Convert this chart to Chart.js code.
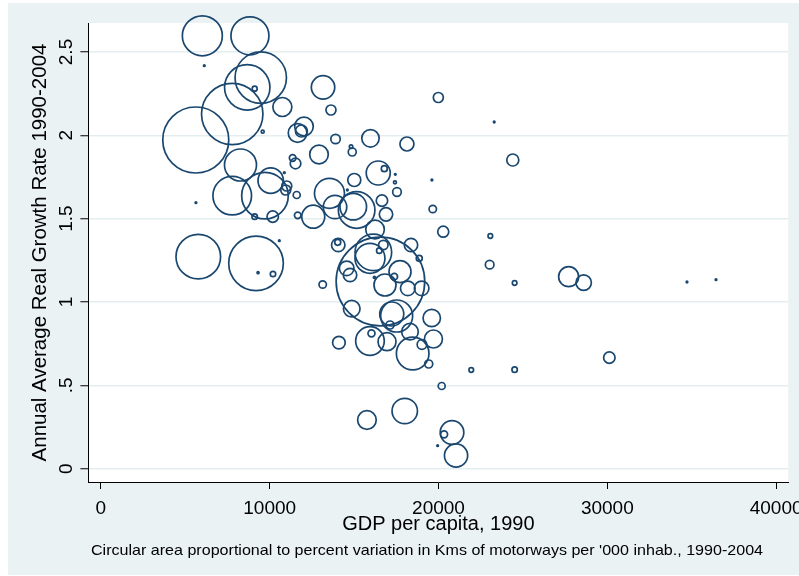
<!DOCTYPE html>
<html>
<head>
<meta charset="utf-8">
<script src="https://cdn.jsdelivr.net/npm/chart.js@4"></script>
<style>
  html, body { margin: 0; padding: 0; background: #fff; }
  #wrap { width: 799px; height: 576px; }
</style>
</head>
<body>
<div id="wrap"><canvas id="bubbleChart" width="799" height="576"></canvas></div>
<script>
// GDP per capita 1990 (x), growth rate 1990-2004 (y), circle radius (motorway variation)
const gdp = [
    6010, 8830, 6125, 9470, 8670, 9110, 13160, 7780, 10750, 13630,
    5620, 9585, 11650, 12030, 11880, 13900, 12920, 11360, 11530, 8270,
    10865, 7780, 9720, 10060, 11010, 10950, 11600, 5630, 9110, 10180,
    11660, 12580, 13540, 5770, 9190, 10570, 9310, 10195, 13140, 15970,
    18130, 14820, 14890, 16430, 16790, 17440, 17420, 19610, 15010, 17540,
    14600, 13870, 14950, 15150, 16650, 16890, 19660, 16240, 20280, 14060,
    14030, 16140, 15940, 16730, 16490, 18370, 18860, 16560, 14560, 14760,
    16200, 16830, 17380, 17720, 18180, 19000, 14860, 17520, 17230, 17130,
    19600, 15940, 16030, 16950, 18310, 19700, 19020, 14100, 18470, 19420,
    18000, 15760, 20800, 20330, 19950, 21040, 20190, 19990, 23300, 24400,
    23070, 23030, 24510, 27710, 28600, 34720, 36440, 30120, 21940, 24510
];
const growth = [
    2.597, 2.597, 2.418, 2.346, 2.288, 2.280, 2.288, 2.128, 2.170, 2.152,
    1.972, 2.022, 2.014, 2.053, 2.026, 1.978, 1.885, 1.864, 1.831, 1.822,
    1.776, 1.638, 1.638, 1.728, 1.696, 1.672, 1.642, 1.596, 1.512, 1.512,
    1.520, 1.512, 1.652, 1.272, 1.232, 1.368, 1.176, 1.168, 1.105, 1.982,
    1.948, 1.932, 1.900, 1.774, 1.800, 1.766, 1.718, 1.732, 1.732, 1.660,
    1.672, 1.570, 1.572, 1.552, 1.608, 1.526, 1.558, 1.435, 1.422, 1.342,
    1.358, 1.298, 1.262, 1.342, 1.308, 1.342, 1.262, 1.123, 1.202, 1.162,
    1.148, 1.102, 1.152, 1.182, 1.082, 1.082, 0.960, 0.916, 0.928, 0.862,
    0.904, 0.766, 0.812, 0.762, 0.822, 0.778, 0.745, 0.756, 0.691, 0.628,
    0.346, 0.292, 0.217, 0.206, 0.138, 0.079, 0.496, 2.227, 2.080, 1.852,
    1.396, 1.224, 1.114, 1.152, 1.116, 1.120, 1.134, 0.666, 0.592, 0.594
];
const size = [
    20, 19, 0.8, 25.7, 22.7, 2.5, 11.7, 30.7, 9.5, 5,
    33, 1.5, 9.3, 9.3, 6, 4.7, 9.3, 3.3, 5.3, 16,
    0.8, 19.3, 23.3, 12.7, 5, 5, 3.5, 0.8, 2.7, 5.7,
    3.3, 11.5, 15, 22.3, 27.3, 0.8, 1, 2.7, 3.7, 8.7,
    7, 1.7, 4, 12, 3, 0.8, 1.5, 0.8, 6.5, 4.3,
    0.8, 11.7, 13.3, 18.3, 5.7, 6.7, 3.7, 9.3, 5.5, 6.7,
    3, 18.3, 15, 4.7, 2.7, 6.7, 3, 44.3, 7.3, 6.7,
    1, 11, 3.3, 11, 7.3, 7.3, 8.3, 16, 12, 4,
    8.7, 14.3, 3.5, 9, 8.3, 9, 4.8, 6.3, 16.3, 4,
    12.7, 9.3, 11.8, 3.5, 0.8, 11.6, 3.5, 5, 0.8, 6,
    2.3, 4.3, 2.3, 10, 7.7, 0.8, 0.8, 5.7, 2.3, 2.7
];

const xTicks = [0, 10000, 20000, 30000, 40000];
const yTicks = [0, 0.5, 1, 1.5, 2, 2.5];
const yTickLabels = ['0', '.5', '1', '1.5', '2', '2.5'];
const note = "Circular area proportional to percent variation in Kms of motorways per '000 inhab., 1990-2004";

const FONT = '"Liberation Sans", Arial, sans-serif';
const NAVY = '#1a476f';
const PANEL = '#eaf2f3';

// Stata-like backdrop, rotated y labels and the note underneath
const stataLook = {
    id: 'stataLook',
    beforeDraw(chart) {
        const { ctx, chartArea: a } = chart;
        ctx.save();
        ctx.fillStyle = '#ffffff';
        ctx.fillRect(0, 0, chart.width, chart.height);
        ctx.fillStyle = PANEL;
        ctx.fillRect(8, 3, chart.width - 8, chart.height - 4);
        ctx.fillStyle = '#ffffff';
        ctx.fillRect(a.left, a.top, a.right - a.left, a.bottom - a.top);
        ctx.restore();
    },
    afterDraw(chart) {
        const { ctx } = chart;
        const yScale = chart.scales.y;
        ctx.save();
        ctx.fillStyle = '#000';
        ctx.font = '19px ' + FONT;
        ctx.textAlign = 'center';
        ctx.textBaseline = 'alphabetic';
        yTicks.forEach((v, i) => {
            const py = yScale.getPixelForValue(v);
            ctx.save();
            ctx.translate(72, py);
            ctx.rotate(-Math.PI / 2);
            ctx.fillText(yTickLabels[i], 0, 0);
            ctx.restore();
        });
        // Stata stretches the note a bit wider than the plain font
        ctx.font = '14.5px ' + FONT;
        ctx.textBaseline = 'middle';
        const w = ctx.measureText(note).width;
        ctx.translate(427, 551);
        ctx.scale(672 / w, 1);
        ctx.fillText(note, 0, 0);
        ctx.restore();
    }
};

// keep the plot box where Stata put it: no extra label overhang padding
function pinPadding(scale) {
    scale.paddingLeft = 0;
    scale.paddingRight = 0;
    scale.paddingTop = 0;
    scale.paddingBottom = 0;
}

const points = gdp.map((x, i) => ({ x: x, y: growth[i], r: size[i] }));

new Chart(document.getElementById('bubbleChart'), {
    type: 'bubble',
    data: {
        datasets: [{
            data: points,
            backgroundColor: 'rgba(0,0,0,0)',
            borderColor: NAVY,
            borderWidth: 1.7,
            clip: false
        }]
    },
    options: {
        responsive: false,
        animation: false,
        events: [],
        layout: {
            autoPadding: false,
            padding: { top: 23, left: 0, right: 10.7, bottom: 0 }
        },
        plugins: {
            legend: { display: false },
            tooltip: { enabled: false }
        },
        scales: {
            x: {
                type: 'linear',
                min: -740,
                max: 40722,
                afterBuildTicks: (scale) => { scale.ticks = xTicks.map(v => ({ value: v })); },
                afterFit: (scale) => { scale.height = 94; pinPadding(scale); },
                grid: {
                    drawOnChartArea: false,
                    drawTicks: true,
                    tickLength: 7,
                    tickColor: '#000',
                    tickWidth: 1
                },
                border: { display: true, color: '#000', width: 1 },
                ticks: {
                    color: '#000',
                    padding: 8,
                    maxRotation: 0,
                    font: { family: FONT, size: 19 },
                    callback: (v) => String(v)
                },
                title: {
                    display: true,
                    text: 'GDP per capita, 1990',
                    color: '#000',
                    font: { family: FONT, size: 20 },
                    padding: { top: 0, bottom: 40 }
                }
            },
            y: {
                type: 'linear',
                min: -0.08,
                max: 2.674,
                afterBuildTicks: (scale) => { scale.ticks = yTicks.map(v => ({ value: v })); },
                afterFit: (scale) => { scale.width = 88.4; pinPadding(scale); },
                grid: {
                    color: '#e4eef0',
                    lineWidth: 1.5,
                    drawTicks: true,
                    tickLength: 8,
                    tickColor: '#000',
                    tickWidth: 1
                },
                border: { display: true, color: '#000', width: 1 },
                ticks: { display: false },
                title: {
                    display: true,
                    text: 'Annual Average Real Growth Rate 1990-2004',
                    color: '#000',
                    font: { family: FONT, size: 20.5 },
                    padding: { top: 28, bottom: 0 }
                }
            }
        }
    },
    plugins: [stataLook]
});
</script>
</body>
</html>
